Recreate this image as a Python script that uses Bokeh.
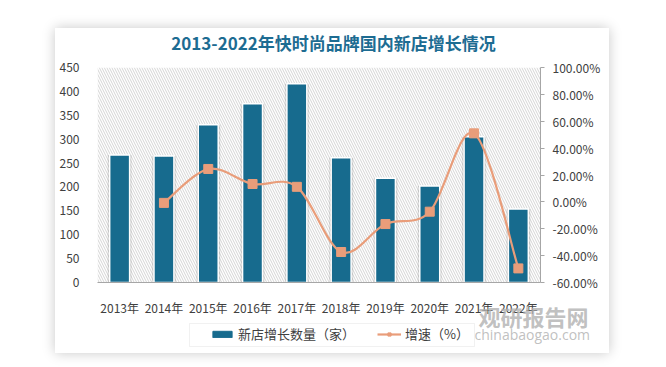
import numpy as np
from bokeh.plotting import figure
from bokeh.models import (ColumnDataSource, Range1d, LinearAxis, FixedTicker,
                          PrintfTickFormatter, Legend, LegendItem, BoxAnnotation, Label)
from bokeh.embed import file_html
from bokeh.resources import INLINE

# ---- data ----
years = ["2013年", "2014年", "2015年", "2016年", "2017年", "2018年", "2019年", "2020年", "2021年", "2022年"]
new_stores = [267, 265, 330, 374, 416, 261, 218, 202, 305, 154]
growth_pct = [None, -0.75, 24.5, 13.3, 11.2, -37.3, -16.5, -7.3, 51.0, -49.5]
left_ticks = [0, 50, 100, 150, 200, 250, 300, 350, 400, 450]
right_ticks = [-60, -40, -20, 0, 20, 40, 60, 80, 100]
title_text = "2013-2022年快时尚品牌国内新店增长情况"
bar_label = "新店增长数量（家）"
line_label = "增速（%）"
wm_cn = "观研报告网"
wm_en = "chinabaogao.com"

BAR = "#176b8e"
LINE = "#e99d7a"
TXT = "#404040"
FONT = "Noto Sans CJK SC"
CARD_W, CARD_H = 554, 325

x = list(range(len(years)))
nan = float("nan")

p = figure(frame_width=443, frame_height=215, min_border_left=42, min_border_right=69,
           min_border_top=39, min_border_bottom=71,
           x_range=Range1d(-0.5, len(years) - 0.5), y_range=Range1d(left_ticks[0], left_ticks[-1]),
           output_backend="svg", toolbar_location=None,
           background_fill_color="white", border_fill_color="white", outline_line_color=None,
           margin=(28, 0, 0, 55),
           styles={"box-shadow": "0px 0px 12px rgba(0,0,0,0.22)"})
p.extra_y_ranges = {"pct": Range1d(right_ticks[0], right_ticks[-1])}
p.grid.visible = False

# hatched plot-area background
p.add_layout(BoxAnnotation(fill_color="white", fill_alpha=1.0, line_alpha=0,
                           hatch_pattern="\\", hatch_color="#cfcfcf", hatch_scale=5,
                           hatch_weight=0.9, level="underlay"))

# bars (with soft shadow)
src = ColumnDataSource(dict(x=x, v=new_stores))
p.vbar(x="x", top="v", source=src, width=0.55, bottom=0, fill_color="#000000",
       fill_alpha=0.08, line_alpha=0)
p.vbar(x="x", top="v", source=src, width=0.51, bottom=0, fill_color="#000000",
       fill_alpha=0.08, line_alpha=0)
p.vbar(x="x", top="v", source=src, width=0.45, bottom=0, fill_color=BAR,
       line_color="white", line_width=1.5)

# smooth growth line (Catmull-Rom -> cubic Bezier through the data points)
gx = np.array([xi for xi, g in zip(x, growth_pct) if g is not None], dtype=float)
gy = np.array([g for g in growth_pct if g is not None], dtype=float)
P = np.column_stack([gx, gy])
Pext = np.vstack([P[0], P, P[-1]])
x0, y0, x1, y1, cx0, cy0, cx1, cy1 = [], [], [], [], [], [], [], []
for i in range(len(P) - 1):
    p0, pa, pb, p3 = Pext[i], Pext[i + 1], Pext[i + 2], Pext[i + 3]
    c1 = pa + (pb - p0) / 6.0
    c2 = pb - (p3 - pa) / 6.0
    x0.append(pa[0]); y0.append(pa[1]); x1.append(pb[0]); y1.append(pb[1])
    cx0.append(c1[0]); cy0.append(c1[1]); cx1.append(c2[0]); cy1.append(c2[1])
p.bezier(x0=x0, y0=y0, x1=x1, y1=y1, cx0=cx0, cy0=cy0, cx1=cx1, cy1=cy1,
         line_color=LINE, line_width=2.2, y_range_name="pct")
p.scatter(gx, gy, marker="square", size=9, fill_color=LINE, line_color=LINE,
          y_range_name="pct")

# axes
xa = p.xaxis[0]
xa.ticker = FixedTicker(ticks=x)
xa.major_label_overrides = {i: y for i, y in enumerate(years)}
xa.axis_line_color = "#a6a6a6"
xa.major_tick_line_color = None
xa.minor_tick_line_color = None
xa.major_label_text_font = FONT
xa.major_label_text_font_size = "12px"
xa.major_label_text_color = TXT
xa.major_label_standoff = 10

ya = p.yaxis[0]
ya.ticker = FixedTicker(ticks=left_ticks)
ya.axis_line_color = None
ya.major_tick_line_color = None
ya.minor_tick_line_color = None
ya.major_label_text_font = FONT
ya.major_label_text_font_size = "12px"
ya.major_label_text_color = TXT
ya.major_label_standoff = 12

ra = LinearAxis(y_range_name="pct", ticker=FixedTicker(ticks=right_ticks),
                formatter=PrintfTickFormatter(format="%.2f%%"))
ra.axis_line_color = "#a6a6a6"
ra.major_tick_line_color = "#a6a6a6"
ra.major_tick_in = 0
ra.major_tick_out = 4
ra.minor_tick_line_color = None
ra.major_label_text_font = FONT
ra.major_label_text_font_size = "12px"
ra.major_label_text_color = TXT
ra.major_label_standoff = 8
p.add_layout(ra, "right")

# ---- transparent overlay (separate root) covering the card: title, legend, watermark ----
q = figure(frame_width=CARD_W, frame_height=CARD_H, min_border=0,
           x_range=Range1d(0, 1), y_range=Range1d(0, 1),
           x_axis_type=None, y_axis_type=None, output_backend="svg", toolbar_location=None,
           background_fill_alpha=0, border_fill_alpha=0, outline_line_color=None,
           margin=(-CARD_H, 0, 0, 55))
q.grid.visible = False

# legend-only renderers (no visible marks)
leg_bar = q.vbar(x=[nan], top=[nan], width=0.5, fill_color=BAR, line_color=BAR)
leg_line = q.line([nan, nan], [nan, nan], line_color=LINE, line_width=2.2)
leg_pt = q.scatter([nan], [nan], marker="square", size=9, fill_color=LINE, line_color=LINE)

q.add_layout(Label(x=278, y=311, x_units="screen", y_units="screen", text=title_text,
                   text_align="center", text_baseline="middle", text_font=FONT,
                   text_font_size="17px", text_font_style="bold", text_color="#1d6c92"))

q.add_layout(BoxAnnotation(left=134, right=419, bottom=7, top=30,
                           left_units="screen", right_units="screen",
                           bottom_units="screen", top_units="screen",
                           fill_color="white", fill_alpha=1, line_color="#d0d0d0", line_width=1))
legend = Legend(items=[LegendItem(label=bar_label, renderers=[leg_bar]),
                       LegendItem(label=line_label, renderers=[leg_line, leg_pt])],
                orientation="horizontal", location=(151, 6),
                label_text_font=FONT, label_text_font_size="13px", label_text_color=TXT,
                glyph_width=24, glyph_height=8, spacing=22, padding=4, margin=0,
                label_standoff=4, border_line_alpha=0, background_fill_alpha=0)
q.add_layout(legend, "center")

q.add_layout(Label(x=423, y=38, x_units="screen", y_units="screen", text=wm_cn,
                   text_align="left", text_baseline="middle", text_font=FONT,
                   text_font_size="22px", text_font_style="bold", text_color="#b0b0b0",
                   text_alpha=0.8))
q.add_layout(Label(x=419, y=19, x_units="screen", y_units="screen", text=wm_en,
                   text_align="left", text_baseline="middle", text_font="Open Sans",
                   text_font_size="14px", text_color="#b0b0b0", text_alpha=0.8))

open("out.html", "w").write(file_html([p, q], INLINE))
